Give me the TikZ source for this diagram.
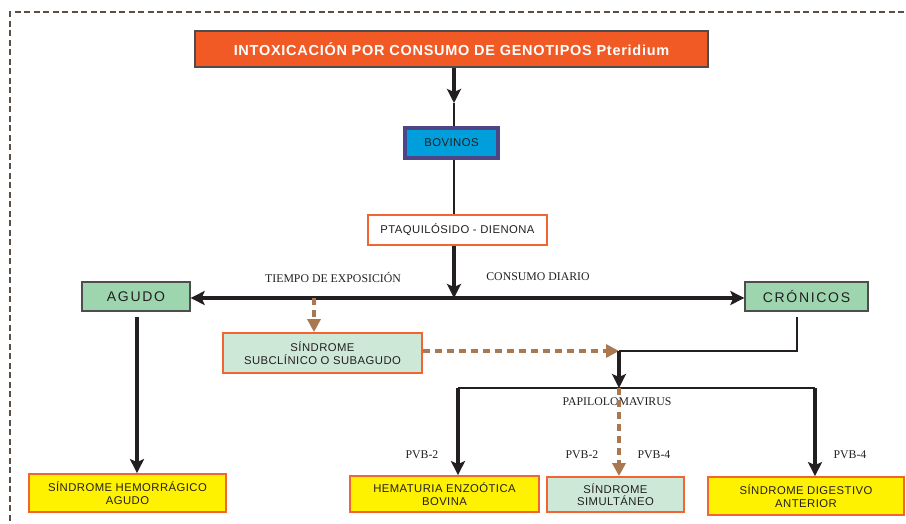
\documentclass[tikz,border=0pt]{standalone}
\usepackage{fontspec}
\setmainfont{Liberation Sans}
\newfontfamily\serifl{Liberation Serif}
\usetikzlibrary{arrows.meta}
\definecolor{ttl}{HTML}{F15A24}
\definecolor{obrd}{HTML}{F26532}
\definecolor{ylw}{HTML}{FFF200}
\definecolor{grn}{HTML}{9DD5AF}
\definecolor{lgrn}{HTML}{CDE8D7}
\definecolor{brn}{HTML}{A97850}
\definecolor{blu}{HTML}{009FDB}
\definecolor{nvy}{HTML}{4C4686}
\definecolor{ink}{HTML}{231F20}
\definecolor{frm}{HTML}{5A5048}
\begin{document}
\begin{tikzpicture}[x=1pt,y=-1pt,
  box/.style={draw, inner sep=0pt, align=center, text=ink, font=\fontsize{11.3}{12.3}\selectfont\addfontfeature{LetterSpace=4}},
  ybox/.style={box, fill=ylw, draw=obrd, line width=1.8pt},
  gbox/.style={box, fill=grn, draw=ink!80, line width=1.3pt, font=\fontsize{14}{16}\selectfont\addfontfeature{LetterSpace=12}},
  lbl/.style={inner sep=0pt, text=ink, font=\serifl\fontsize{11.8}{13}\selectfont},
  thk/.style={draw=ink, line width=3.4pt, -{Stealth[length=14pt,width=14pt,inset=3pt]}},
  thn/.style={draw=ink, line width=1.2pt},
  brd/.style={draw=brn, line width=3.2pt, dash pattern=on 7pt off 5pt, -{Triangle[length=13pt,width=13pt]}}
]
\useasboundingbox (0,0) rectangle (906,523);
% frame
\draw[frm, line width=1.8pt, dash pattern=on 6pt off 3.5pt] (10,530) -- (10,12) -- (912,12);
% nodes
\node[box, fill=ttl, draw=ink!80, line width=1.3pt, minimum width=513pt, minimum height=36pt, text=white,
  font=\bfseries\fontsize{14.5}{16}\selectfont\addfontfeature{LetterSpace=5}] (title) at (451.5,49) {INTOXICACIÓN POR CONSUMO DE GENOTIPOS Pteridium};
\node[box, fill=blu, draw=nvy, line width=4.5pt, minimum width=93pt, minimum height=30pt] (bov) at (451.5,143) {BOVINOS};
\node[box, fill=white, draw=obrd, line width=1.3pt, minimum width=179pt, minimum height=30pt] (ptaq) at (457.5,230) {PTAQUILÓSIDO - DIENONA};
\node[gbox, minimum width=108pt, minimum height=29pt] (agudo) at (136,296.5) {AGUDO};
\node[gbox, minimum width=123pt, minimum height=29pt] (cron) at (806.5,296.5) {CRÓNICOS};
\node[box, fill=lgrn, draw=obrd, line width=1.8pt, minimum width=199pt, minimum height=40pt] (sub) at (322.5,353) {SÍNDROME\\SUBCLÍNICO O SUBAGUDO};
\node[ybox, minimum width=197pt, minimum height=38pt] (hemo) at (127.5,493) {SÍNDROME HEMORRÁGICO\\AGUDO};
\node[ybox, minimum width=189pt, minimum height=36pt] (hemat) at (444.5,494) {HEMATURIA ENZOÓTICA\\BOVINA};
\node[box, fill=lgrn, draw=obrd, line width=1.8pt, minimum width=137pt, minimum height=35pt] (simu) at (615.5,494.5) {SÍNDROME\\SIMULTÁNEO};
\node[ybox, minimum width=196pt, minimum height=38pt] (dig) at (806,496) {SÍNDROME DIGESTIVO\\ANTERIOR};
% labels
\node[lbl] (l1) at (333,277) {TIEMPO DE EXPOSICIÓN};
\node[lbl] (l2) at (538,277) {CONSUMO DIARIO};
\node[lbl] (l3) at (617,402) {PAPILOLOMAVIRUS};
\node[lbl] (l4) at (422,455) {PVB-2};
\node[lbl] (l5) at (582,455) {PVB-2};
\node[lbl] (l6) at (654,455) {PVB-4};
\node[lbl] (l7) at (850,455) {PVB-4};
% coordinates
\coordinate (t1) at (454,103);
\coordinate (h0) at (454,298);
\coordinate (d1) at (314,298);
\coordinate (j) at (619,351);
\coordinate (c1) at (797,317);
\coordinate (p) at (619,388);
\coordinate (pl) at (458,388);
\coordinate (pr) at (815,388);
\coordinate (a1) at (137,317);
% connectors
\draw[thk] (title.south -| t1) -- (t1);
\draw[thn] (t1) -- (t1 |- bov.north);
\draw[thn] (bov.south -| t1) -- (t1 |- ptaq.north);
\draw[thk] (ptaq.south -| h0) -- (h0);
\draw[thk, {Stealth[length=14pt,width=14pt,inset=3pt]}-{Stealth[length=14pt,width=14pt,inset=3pt]}] (agudo.east |- h0) -- (cron.west |- h0);
\draw[brd] (d1) -- (d1 |- sub.north);
\draw[brd] (sub.east |- j) -- (j);
\draw[thn] (c1) -- (c1 |- j) -- (j);
\draw[thk] (j) -- (p);
\draw[draw=ink, line width=1.6pt] (pl) -- (pr);
\draw[thk] (pl) -- (pl |- hemat.north);
\draw[thk] (pr) -- (pr |- dig.north);
\draw[brd] (p) -- (p |- simu.north);
\draw[thk] (a1) -- (a1 |- hemo.north);
\end{tikzpicture}
\end{document}
